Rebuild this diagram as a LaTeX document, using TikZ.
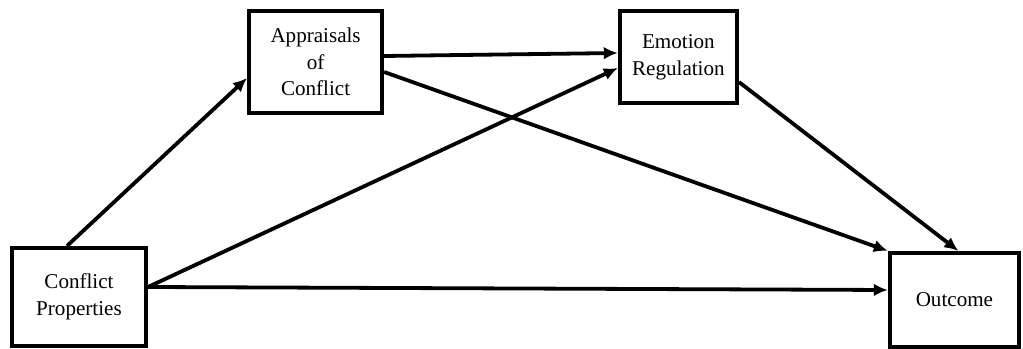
\documentclass[tikz,border=0pt]{standalone}
\usepackage{fontspec}
\setmainfont{Liberation Serif}
\usepackage{tikz}
\usetikzlibrary{arrows.meta,positioning}

\begin{document}
\begin{tikzpicture}[line width=2.7pt,
  box/.style={draw,line width=2.9pt,align=center,inner sep=0pt,
    font=\fontsize{15}{19}\selectfont},
  arr/.style={-{Latex[length=10pt,width=9pt]}}]%
\useasboundingbox (0,0) rectangle (25.575,8.725);
\begin{scope}[fill=white]%
\node[box,minimum width=3.35cm,minimum height=2.45cm] (cp) at (1.975,1.3) {Conflict\\Properties}; %%
\node[box,minimum width=3.325cm,minimum height=2.55cm] (ap) at (7.89,7.175) {Appraisals\\of\\Conflict}; %%
\node[box,minimum width=2.925cm,minimum height=2.3cm] (er) at (16.96,7.3) {Emotion\\Regulation}; %%
\node[box,minimum width=3.225cm,minimum height=2.35cm] (oc) at (23.86,1.225) {Outcome}; %%
\end{scope}
\draw[arr] ([xshift=-.3cm]cp.north)--([yshift=-.4cm]ap.west); %%
\draw[arr] ([yshift=.15cm]ap.east)--([yshift=.1cm]er.west); %%
\draw[arr] ([yshift=-.25cm]ap.east)--(oc.north west); %%
\draw[arr] ([yshift=.25cm]cp.east)--([yshift=-.275cm]er.west); %%
\draw[arr] ([yshift=.25cm]cp.east)--([yshift=.25cm]oc.west); %%
\draw[arr] ([yshift=-.625cm]er.east)--([xshift=.1cm]oc.north); %%
\end{tikzpicture}
\end{document}
